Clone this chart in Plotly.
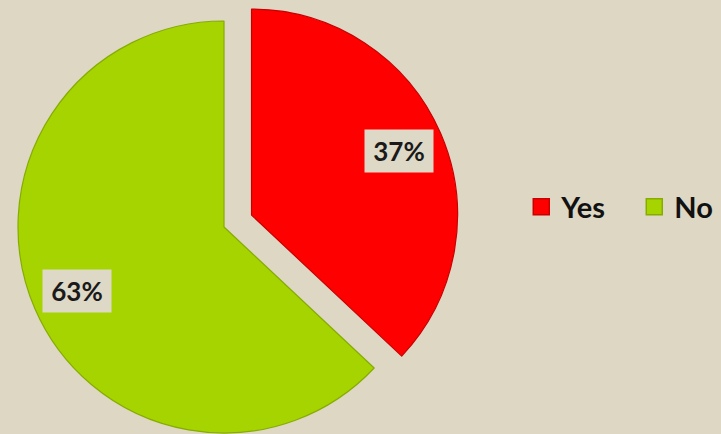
import math
import plotly.graph_objects as go

# Survey answer share
labels = ["Yes", "No"]
values = [37, 63]
colors = ["#FF0000", "#A6D400"]
edge_colors = ["#C80000", "#86AC00"]

W, H = 721, 434
BG = "#DDD7C4"
FONT = "Lato"

total = sum(values)
percents = [round(v / total * 100) for v in values]

# geometry of the pie (pixels)
cx, cy, r = 224, 227, 206
explode_px = 30          # how far the "Yes" slice is pulled out
label_frac = 0.78        # label distance from centre, as a fraction of the radius

# mid-angle of each slice, clockwise from 12 o'clock
mids = []
acc = 0.0
for v in values:
    mids.append((acc + v / 2) / total * 2 * math.pi)
    acc += v

dx = explode_px * math.sin(mids[0])
dy = -explode_px * math.cos(mids[0])
centers = [(cx + dx, cy + dy), (cx, cy)]


def domain(c):
    x0, y0 = c
    clamp = lambda v: min(1.0, max(0.0, v))
    return dict(
        x=[clamp((x0 - r) / W), clamp((x0 + r) / W)],
        y=[clamp(1 - (y0 + r) / H), clamp(1 - (y0 - r) / H)],
    )


fig = go.Figure()

# one pie per slice so the exploded wedge keeps the full radius
for i in range(len(values)):
    clear = "rgba(0,0,0,0)"
    slice_colors = [colors[j] if j == i else clear for j in range(len(values))]
    slice_edges = [edge_colors[j] if j == i else clear for j in range(len(values))]
    fig.add_trace(go.Pie(
        labels=labels,
        values=values,
        sort=False,
        direction="clockwise",
        rotation=0,
        marker=dict(colors=slice_colors, line=dict(width=1.2, color=slice_edges)),
        textinfo="none",
        hoverinfo="skip",
        showlegend=False,
        domain=domain(centers[i]),
    ))

# percentage labels in boxes
for i, p in enumerate(percents):
    x0, y0 = centers[i]
    lx = x0 + label_frac * r * math.sin(mids[i])
    ly = y0 - label_frac * r * math.cos(mids[i])
    fig.add_annotation(
        x=lx / W, y=1 - ly / H, xref="paper", yref="paper",
        xanchor="center", yanchor="middle",
        text=f"<b>{p}%</b>", showarrow=False,
        font=dict(family=FONT, size=26, color="#1A1A1A"),
        bgcolor="#DED8C6", width=62, height=36, borderpad=3,
        align="center", valign="middle",
    )

# legend entries
for lab, col, edge in zip(labels, colors, edge_colors):
    fig.add_trace(go.Scatter(
        x=[None], y=[None], mode="markers", name=f"<b>{lab}</b>",
        marker=dict(symbol="square", size=18, color=col,
                    line=dict(width=1.5, color=edge)),
        showlegend=True,
    ))

fig.update_layout(
    width=W, height=H,
    margin=dict(l=0, r=0, t=0, b=0, autoexpand=False),
    paper_bgcolor=BG, plot_bgcolor=BG,
    xaxis=dict(visible=False), yaxis=dict(visible=False),
    legend=dict(
        orientation="h", x=0.723, y=0.523, xanchor="left", yanchor="middle",
        font=dict(family=FONT, size=29, color="#111111"),
        bgcolor="rgba(0,0,0,0)", entrywidth=68,
    ),
)

fig.write_html("out.html")
